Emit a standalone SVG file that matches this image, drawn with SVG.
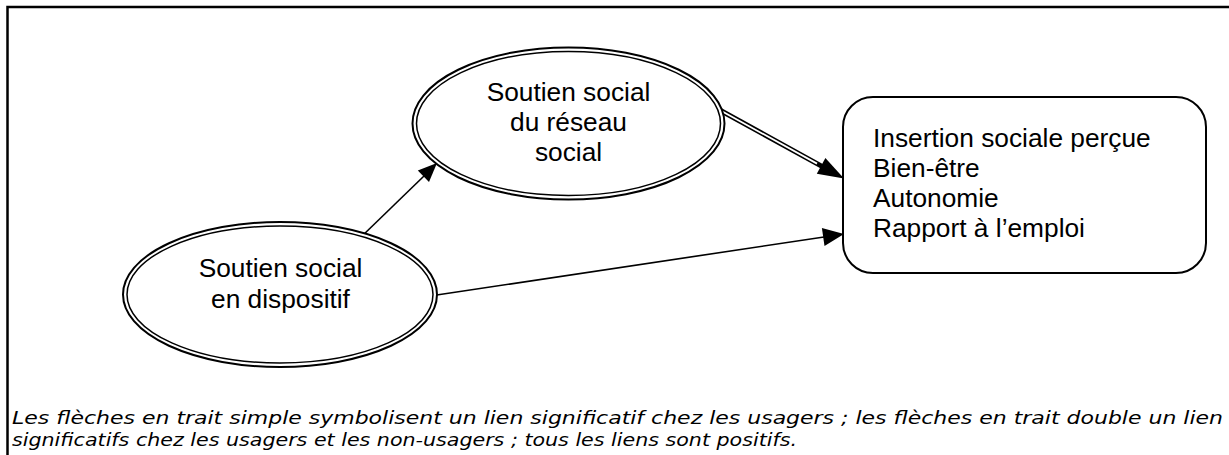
<svg xmlns="http://www.w3.org/2000/svg" width="1229" height="455" viewBox="0 0 1229 455">
  <style>
    .frame { fill: none; stroke: #000; stroke-width: 2.5; }
    .ell-out { fill: #fff; stroke: #000; stroke-width: 2; }
    .ell-in { fill: none; stroke: #000; stroke-width: 1.5; }
    .box { fill: #fff; stroke: #000; stroke-width: 2; }
    .lbl { font-family: "Liberation Sans", Arial, sans-serif; font-size: 26.3px; fill: #000; }
    .mid { text-anchor: middle; }
    .cap { font-family: "DejaVu Sans", Verdana, sans-serif; font-style: italic; font-size: 18.5px; fill: #000; }
    .line { fill: none; stroke: #000; stroke-width: 1.6; }
    .dbl-out { fill: none; stroke: #000; stroke-width: 5; }
    .dbl-in { fill: none; stroke: #fff; stroke-width: 1.8; }
    .head { fill: #000; stroke: none; }
  </style>
  <rect width="1229" height="455" fill="#fff"/>
  <rect class="frame" x="7.5" y="7" width="1240" height="470"/>

  <g id="connectors">
    <path class="line" d="M360,238 L424,176"/>
    <polygon class="head" points="437,163 429,181.9 417.8,170.5"/>
    <path class="dbl-out" d="M716,108 L822,166.4"/>
    <path class="dbl-in" d="M716,108 L817,163.6"/>
    <polygon class="head" points="844,178.5 816.8,173.8 825.4,158"/>
    <path class="line" d="M430,296 L824,237"/>
    <polygon class="head" points="844,234 824.5,245.9 821.9,228.1"/>
  </g>

  <g id="node-reseau">
    <ellipse class="ell-out" cx="568.5" cy="123.5" rx="156" ry="76"/>
    <ellipse class="ell-in" cx="568.5" cy="123.5" rx="152" ry="72"/>
    <text class="lbl mid" x="568.5" y="101">Soutien social</text>
    <text class="lbl mid" x="568.5" y="131">du réseau</text>
    <text class="lbl mid" x="568.5" y="161">social</text>
  </g>

  <g id="node-dispositif">
    <ellipse class="ell-out" cx="280" cy="294.5" rx="157" ry="72.5"/>
    <ellipse class="ell-in" cx="280" cy="294.5" rx="153" ry="68.5"/>
    <text class="lbl mid" x="280.5" y="277">Soutien social</text>
    <text class="lbl mid" x="280.5" y="308">en dispositif</text>
  </g>

  <g id="node-outcomes">
    <rect class="box" x="843" y="97" width="363" height="176" rx="30" ry="30"/>
    <text class="lbl" x="873" y="147">Insertion sociale perçue</text>
    <text class="lbl" x="873" y="177">Bien-être</text>
    <text class="lbl" x="873" y="207">Autonomie</text>
    <text class="lbl" x="873" y="237">Rapport à l’emploi</text>
  </g>

  <g id="caption">
    <text class="cap" x="12" y="424" textLength="1211" lengthAdjust="spacingAndGlyphs">Les flèches en trait simple symbolisent un lien significatif chez les usagers ; les flèches en trait double un lien</text>
    <text class="cap" x="12" y="446" textLength="785" lengthAdjust="spacingAndGlyphs">significatifs chez les usagers et les non-usagers ; tous les liens sont positifs.</text>
  </g>
</svg>
